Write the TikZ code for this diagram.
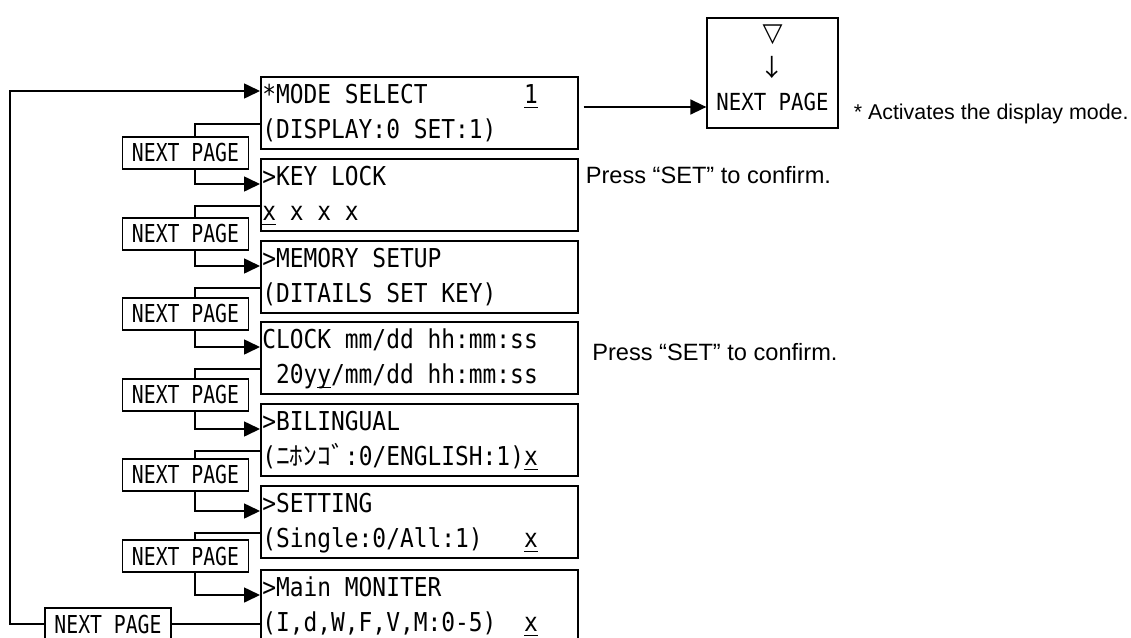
\documentclass[tikz,border=0pt]{standalone}
\usepackage{fontspec}
\setmainfont{Liberation Sans}
\newfontfamily\lcd[FakeStretch=0.88]{DejaVu Sans Mono}
\newfontfamily\npf[FakeStretch=0.80]{DejaVu Sans Mono}
\newfontfamily\kana[FakeStretch=1.06]{Noto Sans CJK JP}
\newfontfamily\sym{DejaVu Sans}
\usetikzlibrary{arrows.meta}
\newcommand{\uln}[1]{\setbox0=\hbox{#1}\rlap{\rule[-5pt]{\wd0}{1.5pt}}\box0}

\begin{document}
\begin{tikzpicture}[x=1pt, y=-1pt, line width=1.6pt,
  lcdbox/.style={draw, minimum width=317pt, minimum height=72pt, anchor=north west, inner sep=0pt},
  lcdline/.style={anchor=base west, inner sep=0pt, font=\lcd\fontsize{26}{30}\selectfont},
  pagebtn/.style={draw, minimum width=126pt, minimum height=32pt, inner sep=0pt, font=\npf\fontsize{24.7}{28}\selectfont},
  note/.style={anchor=base west, inner sep=0pt, font=\fontsize{23.6}{28}\selectfont},
  go/.style={-{Triangle[length=16pt,width=15pt]}}]
  \useasboundingbox (0,0) rectangle (1131,637);
  \clip (0,0) rectangle (1131,637);

  % display pages
  \node[lcdbox] (s1) at (260,76)  {};
  \node[lcdbox] (s2) at (260,158) {};
  \node[lcdbox] (s3) at (260,240) {};
  \node[lcdbox] (s4) at (260,321) {};
  \node[lcdbox] (s5) at (260,403) {};
  \node[lcdbox] (s6) at (260,485) {};
  \node[lcdbox] (s7) at (260,569) {};

  \node[lcdline] (s1a) at ([xshift=1.5pt,yshift=-27pt]s1.north west) {*MODE~SELECT~~~~~~~\uln{1}};
  \node[lcdline] (s1b) at ([xshift=1.5pt,yshift=-62pt]s1.north west) {(DISPLAY:0~SET:1)};
  \node[lcdline] (s2a) at ([xshift=1.5pt,yshift=-27pt]s2.north west) {>KEY~LOCK};
  \node[lcdline] (s2b) at ([xshift=1.5pt,yshift=-62pt]s2.north west) {\uln{x}~x~x~x};
  \node[lcdline] (s3a) at ([xshift=1.5pt,yshift=-27pt]s3.north west) {>MEMORY~SETUP};
  \node[lcdline] (s3b) at ([xshift=1.5pt,yshift=-62pt]s3.north west) {(DITAILS~SET~KEY)};
  \node[lcdline] (s4a) at ([xshift=1.5pt,yshift=-27pt]s4.north west) {CLOCK~mm/dd~hh:mm:ss};
  \node[lcdline] (s4b) at ([xshift=1.5pt,yshift=-62pt]s4.north west) {~20y\uln{y}/mm/dd~hh:mm:ss};
  \node[lcdline] (s5a) at ([xshift=1.5pt,yshift=-27pt]s5.north west) {>BILINGUAL};
  \node[lcdline] (s5b) at ([xshift=1.5pt,yshift=-62pt]s5.north west) {({\kana ﾆﾎﾝｺﾞ}:0/ENGLISH:1)\uln{x}};
  \node[lcdline] (s6a) at ([xshift=1.5pt,yshift=-27pt]s6.north west) {>SETTING};
  \node[lcdline] (s6b) at ([xshift=1.5pt,yshift=-62pt]s6.north west) {(Single:0/All:1)~~~\uln{x}};
  \node[lcdline] (s7a) at ([xshift=1.5pt,yshift=-27pt]s7.north west) {>Main~MONITER};
  \node[lcdline] (s7b) at ([xshift=1.5pt,yshift=-62pt]s7.north west) {(I,d,W,F,V,M:0-5)~~\uln{x}};

  % next page keys
  \node[pagebtn] (p1) at (185.5,153) {NEXT~PAGE};
  \node[pagebtn] (p2) at (185.5,234) {NEXT~PAGE};
  \node[pagebtn] (p3) at (185.5,314) {NEXT~PAGE};
  \node[pagebtn] (p4) at (185.5,395) {NEXT~PAGE};
  \node[pagebtn] (p5) at (185.5,475) {NEXT~PAGE};
  \node[pagebtn] (p6) at (185.5,556) {NEXT~PAGE};
  \node[pagebtn] (pl) at (108,624)   {NEXT~PAGE};

  \coordinate (vx) at (195,0);
  \foreach \i/\j in {1/2,2/3,3/4,4/5,5/6,6/7}{
    \draw ([yshift=-48pt]s\i.north west) -| (p\i.north -| vx);
    \draw[go] (p\i.south -| vx) |- ([yshift=-26pt]s\j.north west);
  }
  \draw (pl.east) -- (pl.east -| s7.west);
  \coordinate (back) at (10,91);   % return to first page
  \draw[go] (pl.west) -| (back) -- (s1.west |- back);

  % display mode key
  \node[draw, line width=1.3pt, minimum width=131pt, minimum height=110pt, inner sep=0pt] (next) at (772.5,73) {};
  \node[inner sep=0pt, font=\sym\fontsize{26}{28}\selectfont] (tri) at (772.5,35) {▽};
  \node[inner sep=0pt, font=\kana\fontsize{24}{26}\selectfont] (dn) at (772.5,67) {↓};
  \node[anchor=base, inner sep=0pt, font=\lcd\fontsize{23.5}{26}\selectfont] (nxt) at (772.5,110) {NEXT~PAGE};
  \coordinate (out) at ([xshift=5pt,yshift=-31pt]s1.north east);
  \draw[go] (out) -- (out -| next.west);

  \node[note] (conf1) at (585,183)   {Press “SET” to confirm.};
  \node[note] (conf2) at (591.5,360) {Press “SET” to confirm.};
  \node[note, font=\fontsize{21.4}{26}\selectfont] (star) at (853,119.5) {* Activates the display mode.};
\end{tikzpicture}
\end{document}
